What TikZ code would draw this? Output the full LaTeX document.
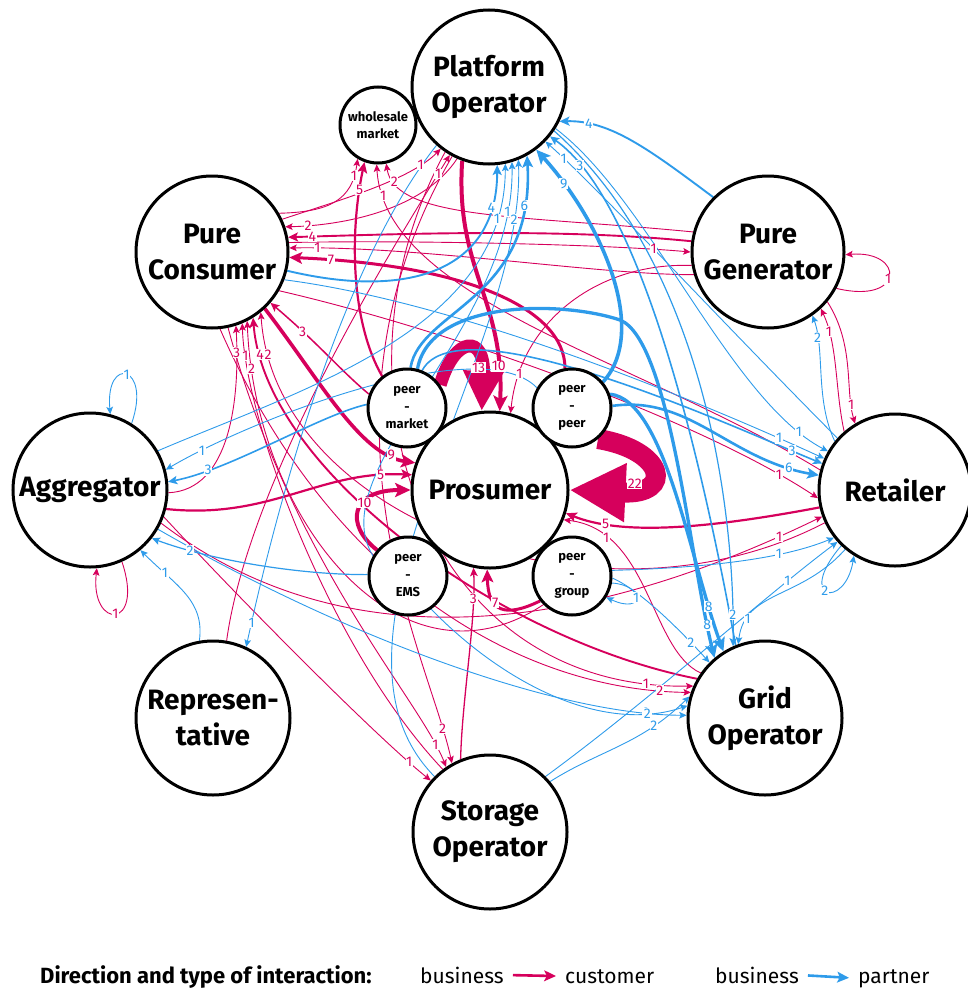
\documentclass[tikz,border=0pt]{standalone}
\usepackage{fontspec}
\setmainfont{Fira Sans}
\usetikzlibrary{arrows.meta}
\definecolor{mag}{HTML}{D6005C}
\definecolor{blu}{HTML}{2E9BEA}
\pgfdeclarelayer{background}
\pgfdeclarelayer{lab}
\pgfsetlayers{background,lab,main}
\newcommand{\cnx}[8]{%
 \begin{pgfonlayer}{background}\draw[#1] (#2) .. controls (#3) and (#4) .. (#5);\end{pgfonlayer}%
 \begin{pgfonlayer}{lab}\path (#2) .. controls (#3) and (#4) .. (#5) node[#6,pos=#7]{#8};\end{pgfonlayer}}
\tikzset{
 tipx/.tip={Stealth[length=5pt 2.6, width=4.5pt 2.4, inset=1pt 0.6]},
 cu/.style={draw=mag, line width=#1, -tipx},
 pa/.style={draw=blu, line width=#1, -tipx},
 lc/.style={text=mag, fill=white, inner sep=0.7pt, font=\fontsize{14}{14}\selectfont},
 lb/.style={text=blu, fill=white, inner sep=0.7pt, font=\fontsize{14}{14}\selectfont},
 bign/.style={circle, draw=black, line width=3pt, fill=white, minimum size=#1, inner sep=0pt, align=center, font=\fontsize{28}{36}\selectfont\bfseries},
 smn/.style={circle, draw=black, line width=3pt, fill=white, minimum size=#1, inner sep=0pt, align=center, font=\fontsize{13}{17.5}\selectfont\bfseries},
 legr/.style={inner sep=0pt, font=\fontsize{21}{21}\selectfont},
 legb/.style={inner sep=0pt, font=\fontsize{22}{22}\selectfont\bfseries},
}
\begin{document}
\begin{tikzpicture}[x=1pt,y=-1pt]
\useasboundingbox (0,0) rectangle (968,993);
% nodes
\node[bign=154pt] (po) at (489,87) {Platform\\Operator};
\node[smn=76pt] (wm) at (378,125) {wholesale\\market};
\node[bign=152pt] (pc) at (212,252) {Pure\\Consumer};
\node[bign=152pt] (pg) at (768,252) {Pure\\Generator};
\node[bign=154pt] (ag) at (90,490) {Aggregator};
\node[bign=152pt] (re) at (895,490) {Retailer};
\node[bign=154pt] (go) at (765,718) {Grid\\Operator};
\node[bign=154pt] (so) at (490,832) {Storage\\Operator};
\node[bign=154pt] (rp) at (213,718) {Represen-\\tative};
\node[bign=156pt] (pr) at (490,490) {Prosumer};
\node[smn=78pt] (pm) at (407,408) {peer\\-\\market};
\node[smn=78pt] (pp) at (572,408) {peer\\-\\peer};
\node[smn=78pt] (pe) at (408,576) {peer\\-\\EMS};
\node[smn=78pt] (pgr) at (572,576) {peer\\-\\group};
% customer (magenta) connectors
\cnx{cu=0.9}{pc.30}{330,212}{352,200}{wm.239}{lc}{.85}{1}
\cnx{cu=2.2}{pm.128}{350,320}{350,230}{wm.250}{lc}{.87}{5}
\cnx{cu=0.9}{re.165}{640,360}{385,300}{wm.268}{lc}{.92}{1}
\cnx{cu=0.9}{pg.165}{520,215}{395,220}{wm.282}{lc}{.88}{2}
\cnx{cu=0.9}{pc.25}{340,200}{410,180}{po.232}{lc}{.82}{1}
\cnx{cu=0.9}{rp.80}{250,470}{410,220}{po.240}{lc}{.92}{1}
\cnx{cu=0.9}{po.246}{420,215}{330,226}{pc.19}{lc}{.85}{2}
\cnx{cu=1.9}{pg.172}{560,228}{400,234}{pc.11}{lc}{.93}{4}
\cnx{cu=0.9}{pg.197}{600,275}{420,246}{pc.3}{lc}{.93}{1}
\cnx{cu=3}{pp.100}{565,310}{470,265}{pc.-4}{lc}{.92}{7}
\cnx{cu=1.5}{pm.160}{340,370}{320,345}{pc.-41}{lc}{.75}{3}
\cnx{cu=3.6}{pc.-47}{320,380}{360,455}{pr.160}{lc}{.85}{9}
\cnx{cu=2.2}{ag.-14}{270,520}{320,470}{pr.169}{lc}{.88}{5}
\cnx{cu=4}{pe.140}{345,525}{350,490}{pr.180}{lc}{.62}{10}
\cnx{cu=13, -{Triangle[length=40pt,width=38pt]}}{pm.35}{455,335}{485,335}{pr.96}{lc}{.75}{13}
\cnx{cu=4}{po.250}{455,270}{505,300}{pr.83}{lc}{.85}{10}
\cnx{cu=0.9}{pg.190}{600,262}{520,320}{pr.75}{lc}{.85}{1}
\cnx{cu=20, -{Triangle[length=56pt,width=55pt]}}{pp.-50}{665,450}{675,495}{pr.0}{lc}{.7}{22}
\cnx{cu=2.2}{re.193}{700,530}{620,535}{pr.-17}{lc}{.78}{5}
\cnx{cu=0.9}{go.145}{650,650}{650,530}{pr.-22}{lc}{.8}{1}
\cnx{cu=1.3}{so.112}{462,700}{476,620}{pr.258}{lc}{.82}{3}
\cnx{cu=3}{pgr.218}{505,618}{488,612}{pr.268}{lc}{.62}{7}
\cnx{cu=0.9}{re.131}{835,390}{838,345}{pg.313}{lc}{.8}{1}
\cnx{cu=0.9}{pg.320}{855,345}{845,390}{re.121}{lc}{.82}{1}
\cnx{cu=0.9}{pg.-28}{905,305}{905,250}{pg.-2}{lc}{.45}{1}
\cnx{cu=0.9}{ag.-66}{145,630}{90,630}{ag.-85}{lc}{.5}{1}
\cnx{cu=0.9}{pc.7}{400,240}{600,244}{pg.180}{lc}{.88}{1}
\cnx{cu=0.9}{pc.-30}{450,330}{700,420}{re.186}{lc}{.9}{1}
\cnx{cu=0.9}{ag.-25}{380,690}{650,600}{re.200}{lc}{.92}{1}
\cnx{cu=0.9}{po.236}{320,380}{420,690}{go.156}{lc}{.94}{1}
\cnx{cu=0.9}{pc.-84}{330,580}{520,690}{go.161}{lc}{.94}{2}
\cnx{cu=0.9}{ag.-20}{250,610}{380,740}{so.139}{lc}{.88}{1}
\cnx{cu=0.9}{pc.-78}{290,560}{420,700}{so.124}{lc}{.9}{1}
\cnx{cu=0.9}{po.242}{300,420}{430,660}{so.119}{lc}{.9}{2}
\cnx{cu=0.9}{ag.-2}{230,490}{240,400}{pc.-72}{lc}{.88}{3}
\cnx{cu=0.9}{so.127}{330,650}{245,420}{pc.-67}{lc}{.9}{1}
\cnx{cu=0.9}{pgr.225}{400,700}{255,520}{pc.-63}{lc}{.92}{2}
\cnx{cu=1.9}{go.150}{500,640}{265,470}{pc.-58}{lc}{.92}{4}
\cnx{cu=0.9}{re.205}{600,640}{275,520}{pc.-51}{lc}{.93}{2}
% partner (blue) connectors
\cnx{pa=1.9}{pc.-14}{410,300}{497,270}{po.276}{lb}{.85}{4}
\cnx{pa=0.9}{ag.30}{300,390}{505,330}{po.282}{lb}{.88}{1}
\cnx{pa=0.9}{pe.150}{320,470}{515,330}{po.287}{lb}{.9}{1}
\cnx{pa=0.9}{so.135}{300,640}{525,350}{po.292}{lb}{.9}{2}
\cnx{pa=2.6}{pm.85}{420,310}{535,300}{po.299}{lb}{.87}{6}
\cnx{pa=3.6}{pp.40}{650,330}{600,220}{po.307}{lb}{.85}{9}
\cnx{pa=0.9}{re.138}{720,320}{600,190}{po.316}{lb}{.9}{1}
\cnx{pa=1.6}{go.112}{700,450}{640,200}{po.321}{lb}{.885}{3}
\cnx{pa=1.9}{pg.135}{650,150}{610,120}{po.334}{lb}{.8}{4}
\cnx{pa=2.6}{pp.3}{690,395}{730,460}{re.169}{lb}{.88}{6}
\cnx{pa=1.6}{pm.68}{460,300}{740,430}{re.160}{lb}{.9}{3}
\cnx{pa=0.9}{pc.-21}{480,305}{740,420}{re.156}{lb}{.86}{1}
\cnx{pa=0.9}{po.328}{650,200}{730,400}{re.150}{lb}{.9}{1}
\cnx{pa=0.9}{pgr.8}{700,568}{780,560}{re.218}{lb}{.7}{1}
\cnx{pa=0.9}{so.45}{650,700}{760,600}{re.222}{lb}{.8}{1}
\cnx{pa=0.9}{re.226}{795,600}{845,610}{re.238}{lb}{.45}{2}
\cnx{pa=0.9}{re.141}{815,400}{825,350}{pg.305}{lb}{.8}{2}
\cnx{pa=0.9}{ag.58}{152,365}{105,355}{ag.75}{lb}{.5}{1}
\cnx{pa=1.6}{pm.175}{320,415}{230,470}{ag.6}{lb}{.8}{3}
\cnx{pa=0.9}{pp.150}{480,330}{250,420}{ag.15}{lb}{.88}{1}
\cnx{pa=1.2}{pe.178}{300,575}{210,560}{ag.-38}{lb}{.8}{2}
\cnx{pa=0.9}{rp.100}{205,600}{175,585}{ag.-50}{lb}{.75}{1}
\cnx{pa=0.9}{ag.-30}{350,640}{560,715}{go.178}{lb}{.9}{2}
\cnx{pa=0.9}{pe.-55}{500,680}{600,735}{go.171}{lb}{.85}{2}
\cnx{pa=0.9}{so.40}{600,750}{640,745}{go.164}{lb}{.75}{2}
\cnx{pa=0.9}{pgr.-3}{640,590}{680,630}{go.135}{lb}{.8}{2}
\begin{pgfonlayer}{background}
\draw[pa=3.3] (pm.75) .. controls (430,300) and (560,300) .. (620,320) .. controls (670,340) and (690,560) .. (go.130);
\end{pgfonlayer}
\begin{pgfonlayer}{lab}
\path (620,320) .. controls (670,340) and (690,560) .. (go.130) node[lb,pos=.9]{8};
\end{pgfonlayer}
\cnx{pa=3.3}{pp.20}{665,400}{690,560}{go.122}{lb}{.85}{8}
\cnx{pa=1.2}{po.326}{700,260}{735,500}{go.114}{lb}{.93}{2}
\cnx{pa=0.9}{re.230}{800,600}{745,590}{go.110}{lb}{.8}{1}
\cnx{pa=0.9}{pgr.-10}{645,585}{645,615}{pgr.-32}{lb}{.5}{1}
\cnx{pa=0.9}{po.228}{330,280}{265,560}{rp.65}{lb}{.92}{1}
% legend
\node[legb, anchor=base west] (lt) at (40,983) {Direction and type of interaction:};
\node[legr, anchor=base west] (b1) at (420,983) {business};
\node[legr, anchor=base west] (c1) at (565,983) {customer};
\node[legr, anchor=base west] (b2) at (715,983) {business};
\node[legr, anchor=base west] (c2) at (858,983) {partner};
\draw[cu=2.6, shorten <=9pt, shorten >=9pt] (b1.east) -- (c1.west);
\draw[pa=2.6, shorten <=9pt, shorten >=9pt] (b2.east) -- (c2.west);
\end{tikzpicture}
\end{document}
